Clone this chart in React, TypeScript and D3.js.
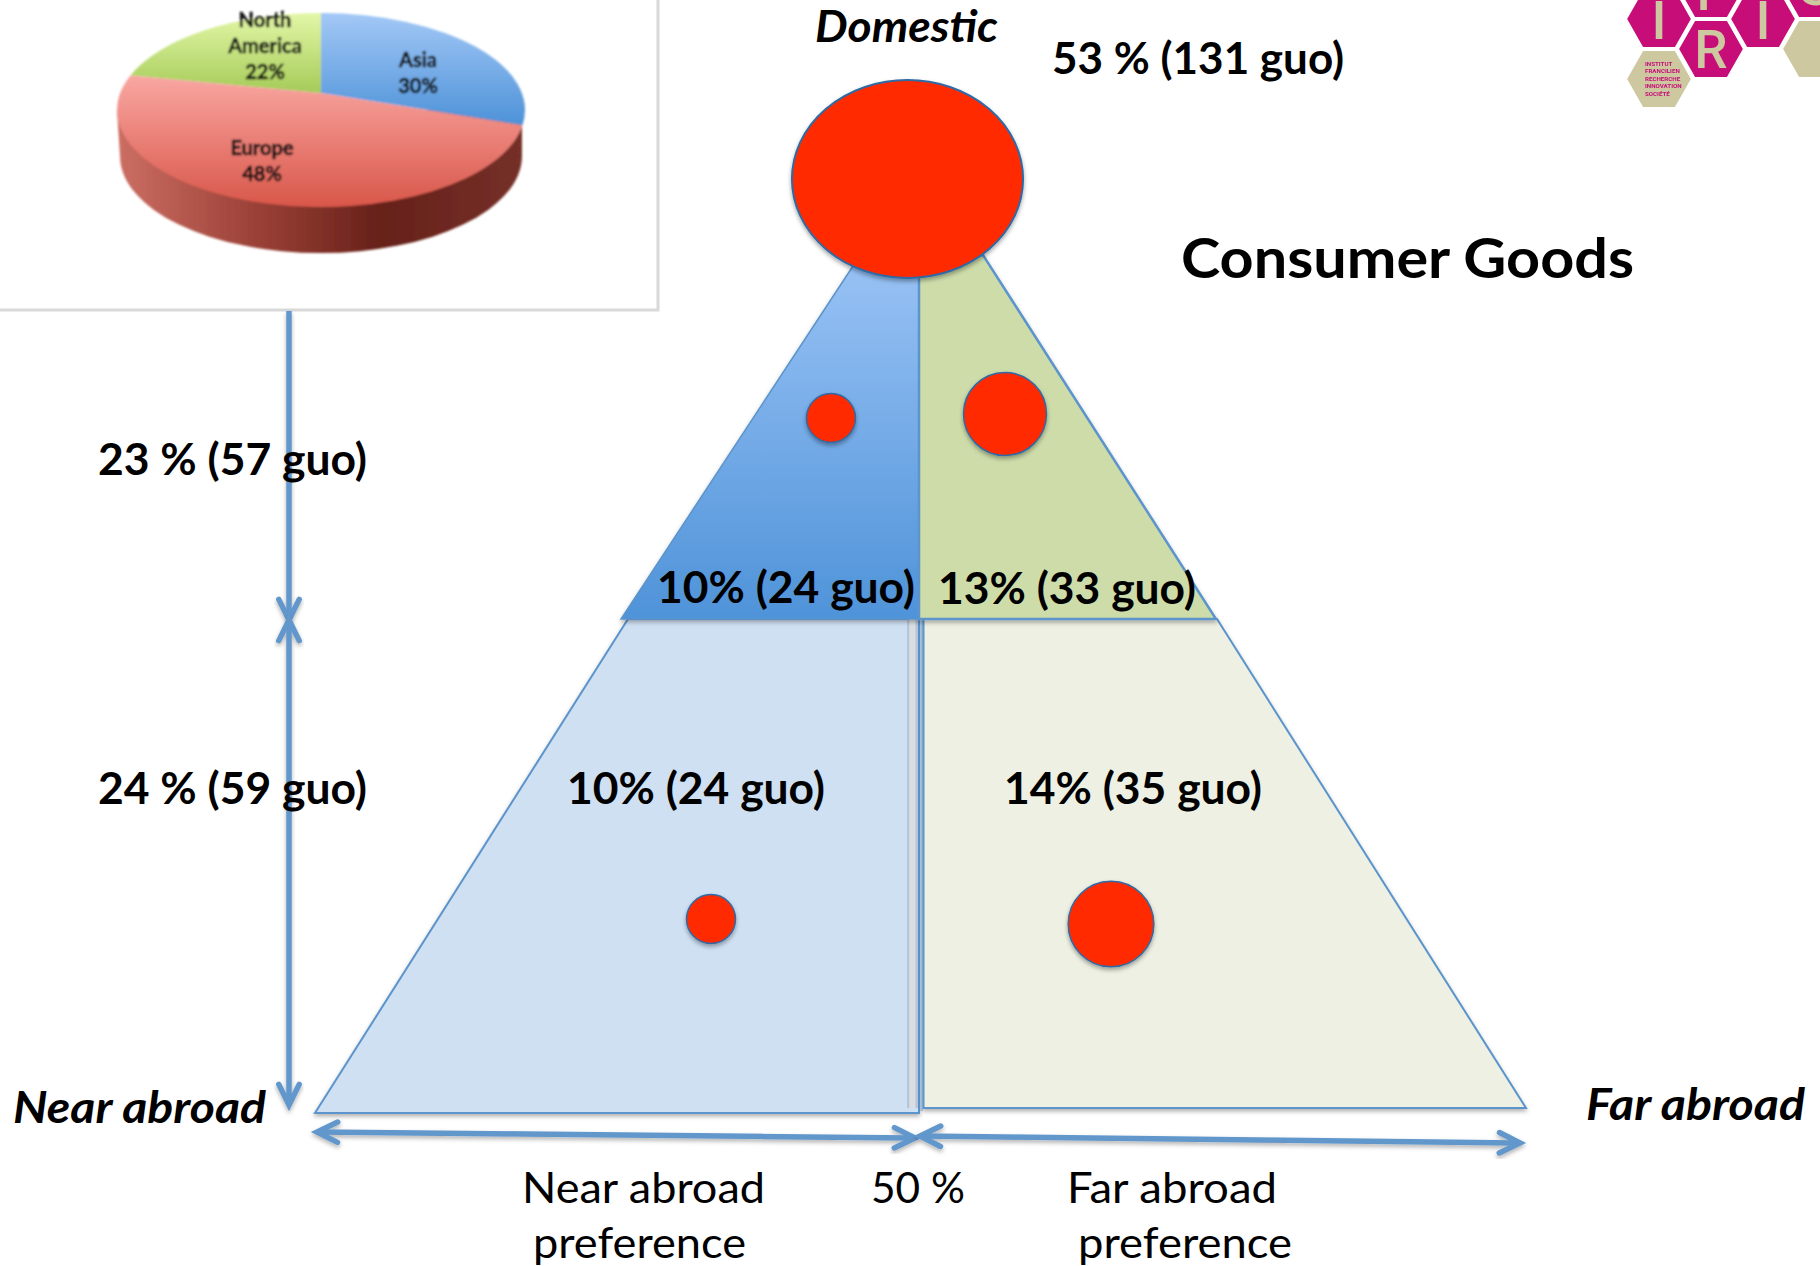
import React from "react";
import * as d3 from "d3";

// Regional shares shown in the inset pie
const pieRegions = ["Asia", "Europe", "North America"];
const pieShares = [30, 48, 22];

// Location preference of the groups, per level of the pyramid
const cellPercents = [10, 13, 10, 14];
const cellGuo = [24, 33, 24, 35];
const domesticPercent = 53;
const domesticGuo = 131;
const levelPercents = [23, 24];
const levelGuo = [57, 59];

const FONT = "Lato, 'Open Sans', sans-serif";
const BLUE = "#6297cc";
const EDGE = "#5b94cb";
const BUBBLE_EDGE = "#2f6aa5";

// Bubble radius for a number of groups
const bubbleRadius = d3.scaleLinear().domain([24, 33, 131]).range([24.5, 41.5, 107]);

// Pie rim angle for a cumulative share; the tilted view moves the slice boundaries
const rimAngle = d3.scaleLinear().domain([0, 108, 280.8, 360]).range([0, 99, 291, 360]);

const PIE = { cx: 321, cy: 110, rx: 204, ry: 97, apexY: 93, depth: 46 };
const rim = (deg: number): [number, number] => {
  const a = (rimAngle(deg) * Math.PI) / 180;
  return [PIE.cx + PIE.rx * Math.sin(a), PIE.cy - PIE.ry * Math.cos(a)];
};

const hexPath = (cx: number, cy: number) => {
  const r = 33;
  const h = 29;
  return d3.line()([
    [cx - r, cy],
    [cx - r / 2, cy - h],
    [cx + r / 2, cy - h],
    [cx + r, cy],
    [cx + r / 2, cy + h],
    [cx - r / 2, cy + h],
  ]) + "Z";
};

const cellLabel = (i: number) => `${cellPercents[i]}% (${cellGuo[i]} guo)`;

function Label(p: { x: number; y: number; w: number; size?: number; bold?: boolean; italic?: boolean; children: string }) {
  return (
    <text
      x={p.x}
      y={p.y}
      fontFamily={FONT}
      fontSize={p.size ?? 43}
      fontWeight={p.bold ? 700 : 400}
      fontStyle={p.italic ? "italic" : "normal"}
      textLength={p.w}
      lengthAdjust="spacingAndGlyphs"
      fill="#000"
    >
      {p.children}
    </text>
  );
}

function Arrow(p: { x1: number; y1: number; x2: number; y2: number; heads: "end" | "both" }) {
  const ang = Math.atan2(p.y2 - p.y1, p.x2 - p.x1);
  const head = (x: number, y: number, a: number) => {
    const len = 23;
    const spread = 0.46;
    return d3.line()([
      [x - len * Math.cos(a - spread), y - len * Math.sin(a - spread)],
      [x, y],
      [x - len * Math.cos(a + spread), y - len * Math.sin(a + spread)],
    ])!;
  };
  return (
    <g fill="none" stroke={BLUE} strokeWidth={5.5} strokeLinecap="round" filter="url(#softShadow)">
      <line x1={p.x1} y1={p.y1} x2={p.x2 - 4 * Math.cos(ang)} y2={p.y2 - 4 * Math.sin(ang)} strokeLinecap="butt" />
      <path d={head(p.x2, p.y2, ang)} />
      {p.heads === "both" && <path d={head(p.x1, p.y1, ang + Math.PI)} />}
    </g>
  );
}

export default function App() {
  const pie = d3.pie<number>().sort(null).value((d) => d)(pieShares);
  const toDeg = (rad: number) => (rad * 180) / Math.PI;
  const sliceFills = ["url(#pieAsia)", "url(#pieEurope)", "url(#pieAmerica)"];

  const slicePath = (startDeg: number, endDeg: number) => {
    const [x0, y0] = rim(startDeg);
    const [x1, y1] = rim(endDeg);
    const large = rimAngle(endDeg) - rimAngle(startDeg) > 180 ? 1 : 0;
    return `M${PIE.cx},${PIE.apexY}L${x0},${y0}A${PIE.rx},${PIE.ry} 0 ${large} 1 ${x1},${y1}Z`;
  };

  // The wall is a half ellipse; the top face is painted over its upper part
  const sidePath =
    `M${PIE.cx - PIE.rx},${PIE.cy}` +
    `L${PIE.cx - PIE.rx + 3},${PIE.cy + PIE.depth}` +
    `A${PIE.rx - 3},${PIE.ry} 0 0 0 ${PIE.cx + PIE.rx - 3},${PIE.cy + PIE.depth}` +
    `L${PIE.cx + PIE.rx - 3},${PIE.cy}Z`;

  const pyramid = {
    topBlue: "M853,266L621,619L919,619L919,266Z",
    topGreen: "M919,266L919,619L1216,619L983,255Z",
    lowBlue: "M628,619L315,1113L919,1113L919,619Z",
    lowGreen: "M923.5,619L923.5,1108L1526,1108L1217,619Z",
  };

  const bubbles = [
    { x: 831, y: 418, guo: cellGuo[0] },
    { x: 1005, y: 414, guo: cellGuo[1] },
    { x: 711, y: 919, guo: cellGuo[2] },
    { x: 1111, y: 924, guo: cellGuo[3] },
  ];

  const logoText = ["INSTITUT", "FRANCILIEN", "RECHERCHE", "INNOVATION", "SOCIÉTÉ"];

  return (
    <svg
      width={1820}
      height={1266}
      viewBox="0 0 1820 1266"
      style={{ position: "absolute", left: 0, top: 0, background: "#fff" }}
    >
      <defs>
        <linearGradient id="pieAsia" x1="0" y1="0" x2="0" y2="1">
          <stop offset="0" stopColor="#a3c8f6" />
          <stop offset="1" stopColor="#4d92d8" />
        </linearGradient>
        <linearGradient id="pieAmerica" x1="0" y1="0" x2="0" y2="1">
          <stop offset="0" stopColor="#e3f7a8" />
          <stop offset="1" stopColor="#a5cb58" />
        </linearGradient>
        <linearGradient id="pieEurope" x1="0" y1="0" x2="0" y2="1">
          <stop offset="0" stopColor="#f9a7a2" />
          <stop offset="1" stopColor="#d9574a" />
        </linearGradient>
        <linearGradient id="pieSide" x1="0" y1="0" x2="1" y2="0">
          <stop offset="0" stopColor="#cc6e63" />
          <stop offset="0.35" stopColor="#9a4036" />
          <stop offset="0.65" stopColor="#672119" />
          <stop offset="1" stopColor="#753029" />
        </linearGradient>
        <linearGradient id="topBlue" x1="0" y1="0" x2="0" y2="1">
          <stop offset="0" stopColor="#97c1f4" />
          <stop offset="1" stopColor="#4f93d9" />
        </linearGradient>
        <filter id="softShadow" x="-20%" y="-20%" width="140%" height="140%">
          <feDropShadow dx="0" dy="2.5" stdDeviation="2" floodColor="#000" floodOpacity="0.3" />
        </filter>
        <filter id="bubbleShadow" x="-20%" y="-20%" width="140%" height="140%">
          <feDropShadow dx="0" dy="2.5" stdDeviation="2" floodColor="#000" floodOpacity="0.35" />
        </filter>
        <filter id="panelBlur">
          <feGaussianBlur stdDeviation="0.9" />
        </filter>
        <filter id="logoBlur">
          <feGaussianBlur stdDeviation="0.4" />
        </filter>
      </defs>

      {/* Inset pie panel */}
      <path d="M-5,310L658,310L658,-5" fill="none" stroke="#d9d9d9" strokeWidth={3} />
      <g filter="url(#panelBlur)">
        <path d={sidePath} fill="url(#pieSide)" />
        {pie.map((s, i) => (
          <path key={pieRegions[i]} d={slicePath(toDeg(s.startAngle), toDeg(s.endAngle))} fill={sliceFills[i]} />
        ))}
        <g fontFamily={FONT} fontWeight={700} fontSize={20} textAnchor="middle" fill="#111" stroke="#111" strokeWidth={0.5}>
          <text x={418} y={67}>{pieRegions[0]}</text>
          <text x={418} y={93}>{pieShares[0]}%</text>
          <text x={262} y={155}>{pieRegions[1]}</text>
          <text x={262} y={181}>{pieShares[1]}%</text>
          <text x={265} y={27}>North</text>
          <text x={265} y={53}>America</text>
          <text x={265} y={79}>{pieShares[2]}%</text>
        </g>
      </g>

      {/* IFRIS logo */}
      <g filter="url(#logoBlur)">
        {[[1659, 19], [1711, -11], [1763, 19], [1711, 49], [1815, -11]].map(([x, y]) => (
          <path key={`${x}-${y}`} d={hexPath(x, y)} fill="#c60c78" stroke="#fff" strokeWidth={2} />
        ))}
        {[[1659, 79], [1815, 49]].map(([x, y]) => (
          <path key={`${x}-${y}`} d={hexPath(x, y)} fill="#cdc8a0" stroke="#fff" strokeWidth={2} />
        ))}
        <g fontFamily="Roboto, sans-serif" fontWeight={500} fontSize={53} textAnchor="middle" fill="#cdc8a0">
          <text x={1659} y={39}>I</text>
          <text x={1711} y={10}>F</text>
          <text x={1711} y={68}>R</text>
          <text x={1763} y={39}>I</text>
          <text x={1815} y={5}>S</text>
        </g>
        <g fontFamily="Roboto, sans-serif" fontWeight={700} fontSize={6.2} fill="#c60c78">
          {logoText.map((t, i) => (
            <text key={t} x={1645} y={66 + i * 7.4}>{t}</text>
          ))}
        </g>
      </g>

      {/* Lower level of the pyramid, with the shaded seam between its halves */}
      <path d={pyramid.lowBlue} fill="#cfe0f3" stroke={EDGE} strokeWidth={2} filter="url(#softShadow)" />
      <rect x={907} y={619} width={2.5} height={489} fill="#b4c5dc" />
      <rect x={909.5} y={619} width={6} height={489} fill="#dcdde0" />
      <rect x={915.5} y={619} width={2.5} height={489} fill="#b4c5dc" />
      <rect x={920} y={619} width={3} height={492} fill="#b5cbe2" />
      <path d={pyramid.lowGreen} fill="#edf0e2" stroke={EDGE} strokeWidth={2} filter="url(#softShadow)" />

      {/* Upper level of the pyramid */}
      <g filter="url(#softShadow)">
        <path d={pyramid.topBlue} fill="url(#topBlue)" stroke={EDGE} strokeWidth={1.5} />
        <path d={pyramid.topGreen} fill="#cddca9" stroke={EDGE} strokeWidth={2.5} />
      </g>

      {/* Location bubbles */}
      {bubbles.map((b) => (
        <circle
          key={`${b.x}`}
          cx={b.x}
          cy={b.y}
          r={bubbleRadius(b.guo)}
          fill="#ff2a00"
          stroke={BUBBLE_EDGE}
          strokeWidth={1.5}
          filter="url(#bubbleShadow)"
        />
      ))}
      <ellipse
        cx={907.5}
        cy={179}
        rx={bubbleRadius(domesticGuo) * 1.08}
        ry={bubbleRadius(domesticGuo) * 0.925}
        fill="#ff2a00"
        stroke={BUBBLE_EDGE}
        strokeWidth={2}
        filter="url(#bubbleShadow)"
      />

      {/* Measure arrows */}
      <Arrow x1={289} y1={311} x2={289} y2={620} heads="end" />
      <Arrow x1={289} y1={620} x2={289} y2={1105} heads="both" />
      <Arrow x1={317} y1={1132} x2={915} y2={1138} heads="both" />
      <Arrow x1={920} y1={1136} x2={1520} y2={1143} heads="both" />

      {/* Share labels */}
      <Label x={815} y={42} w={183} bold italic>Domestic</Label>
      <Label x={1052} y={74} w={292} bold>{`${domesticPercent} % (${domesticGuo} guo)`}</Label>
      <Label x={1181} y={278} w={453} size={56} bold>Consumer Goods</Label>
      <Label x={98} y={475} w={269} bold>{`${levelPercents[0]} % (${levelGuo[0]} guo)`}</Label>
      <Label x={98} y={804} w={269} bold>{`${levelPercents[1]} % (${levelGuo[1]} guo)`}</Label>
      <Label x={657} y={603} w={258} bold>{cellLabel(0)}</Label>
      <Label x={938} y={604} w={258} bold>{cellLabel(1)}</Label>
      <Label x={567} y={804} w={258} bold>{cellLabel(2)}</Label>
      <Label x={1004} y={804} w={258} bold>{cellLabel(3)}</Label>
      <Label x={13} y={1123} w={253} bold italic>Near abroad</Label>
      <Label x={1586} y={1120} w={219} bold italic>Far abroad</Label>
      <Label x={522} y={1203} w={243}>Near abroad</Label>
      <Label x={533} y={1258} w={213}>preference</Label>
      <Label x={871} y={1203} w={94}>50 %</Label>
      <Label x={1067} y={1203} w={210}>Far abroad</Label>
      <Label x={1078} y={1258} w={214}>preference</Label>
    </svg>
  );
}
